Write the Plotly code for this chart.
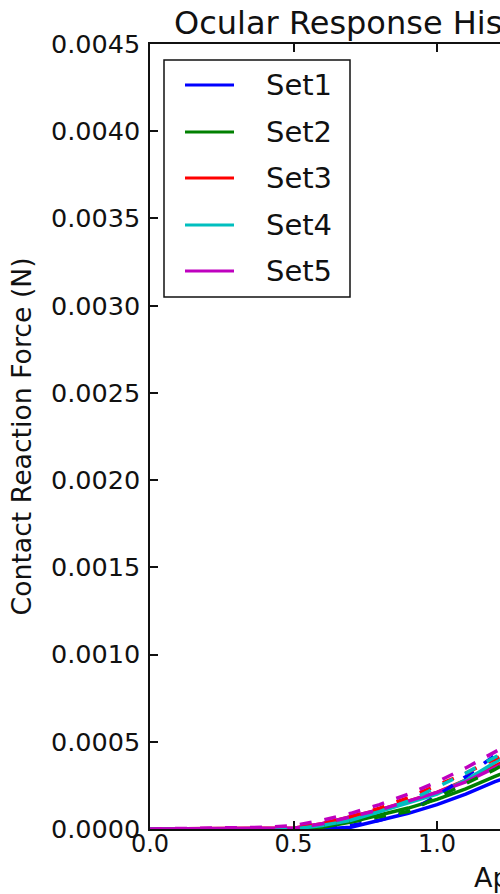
import plotly.graph_objects as go

# Applanation depth grid (mm)
depth = [0.0, 0.1, 0.2, 0.3, 0.4, 0.5, 0.6, 0.7, 0.8, 0.9, 1.0, 1.1, 1.2, 1.3]

set_names = ["Set1", "Set2", "Set3", "Set4", "Set5"]
set_colors = ["#0000ff", "#008000", "#ff0000", "#00bfbf", "#bf00bf"]

# Simulated contact reaction force (N), solid lines
sim_set1 = [0, 0, 0, 0, 0, 0, 0, 0.00001, 0.00005, 0.00009, 0.00014, 0.00020, 0.00027, 0.00033]
sim_set2 = [0, 0, 0, 0, 0, 0, 0.00001, 0.00004, 0.00008, 0.00012, 0.00017, 0.00023, 0.00030, 0.00037]
sim_set3 = [0, 0, 0, 0, 0, 0.000005, 0.00003, 0.00007, 0.00011, 0.00016, 0.00021, 0.00028, 0.00036, 0.00044]
sim_set4 = [0, 0, 0, 0, 0, 0, 0.00002, 0.00005, 0.00010, 0.00015, 0.00020, 0.00028, 0.00038, 0.00048]
sim_set5 = [0, 0, 0, 0, 0, 0.000005, 0.00003, 0.00007, 0.00011, 0.00016, 0.00021, 0.00027, 0.00035, 0.00043]

# Measured contact reaction force (N), dashed lines
meas_set1 = [0, 0, 0, 0, 0, 0, 0.000005, 0.00002, 0.00005, 0.00010, 0.00019, 0.00030, 0.00042, 0.00054]
meas_set2 = [0, 0, 0, 0, 0, 0, 0.00001, 0.00004, 0.00007, 0.00010, 0.00018, 0.00026, 0.00034, 0.00043]
meas_set3 = [0, 0, 0, 0, 0, 0.00001, 0.00003, 0.00007, 0.00012, 0.00018, 0.00025, 0.00032, 0.00040, 0.00049]
meas_set4 = [0, 0, 0, 0, 0, 0, 0.00002, 0.00005, 0.00010, 0.00016, 0.00024, 0.00032, 0.00041, 0.00050]
meas_set5 = [0, 0.000003, 0.000005, 0.000007, 0.00001, 0.00002, 0.00005, 0.00009, 0.00014, 0.00020, 0.00027, 0.00035, 0.00044, 0.00053]

sim_values = [sim_set1, sim_set2, sim_set3, sim_set4, sim_set5]
meas_values = [meas_set1, meas_set2, meas_set3, meas_set4, meas_set5]

x_ticks = [0.0, 0.5, 1.0]
y_ticks = [0.0000, 0.0005, 0.0010, 0.0015, 0.0020, 0.0025, 0.0030, 0.0035, 0.0040, 0.0045]

title_text = "Ocular Response History"
x_label = "Applanation Depth (mm)"
y_label = "Contact Reaction Force (N)"

FONT = "DejaVu Sans"
W, H = 500, 894
ML, MR, MT, MB = 150, 0, 44, 65
PW, PH = W - ML - MR, H - MT - MB
PX_PER_UNIT = 287.0

fig = go.Figure()

for name, color, ys in zip(set_names, set_colors, sim_values):
    fig.add_trace(go.Scatter(x=depth, y=ys, mode="lines", name=name,
                             line=dict(color=color, width=3.5), showlegend=False))
for name, color, ys in zip(set_names, set_colors, meas_values):
    fig.add_trace(go.Scatter(x=depth, y=ys, mode="lines", name=name + " measured",
                             line=dict(color=color, width=3.5, dash="12px,13px"),
                             showlegend=False))


def px_x(px):
    return (px - ML) / PW


def px_y(py):
    return (H - MB - py) / PH


shapes = []
annotations = []

# legend frame
shapes.append(dict(type="rect", xref="paper", yref="paper",
                   x0=px_x(164), x1=px_x(350), y0=px_y(297), y1=px_y(60),
                   line=dict(color="#111111", width=1.5), fillcolor="white", layer="above"))
entry_y = [85, 132, 178, 225, 271]
for name, color, ey in zip(set_names, set_colors, entry_y):
    shapes.append(dict(type="line", xref="paper", yref="paper",
                       x0=px_x(185), x1=px_x(234), y0=px_y(ey), y1=px_y(ey),
                       line=dict(color=color, width=3), layer="above"))
    annotations.append(dict(text=name, xref="paper", yref="paper",
                            x=px_x(264), y=px_y(ey), xanchor="left", yanchor="middle",
                            showarrow=False, font=dict(family=FONT, size=29, color="#111111")))

# title and x-axis label
annotations.append(dict(text=title_text, xref="paper", yref="paper",
                        x=px_x(172), y=px_y(23), xanchor="left", yanchor="middle",
                        showarrow=False, font=dict(family=FONT, size=32, color="#111111")))
annotations.append(dict(text=x_label, xref="paper", yref="paper",
                        x=px_x(472), y=px_y(877), xanchor="left", yanchor="middle",
                        showarrow=False, font=dict(family=FONT, size=27, color="#111111")))
annotations.append(dict(text=y_label, xref="paper", yref="paper",
                        x=px_x(21), y=px_y(436.5), xanchor="center", yanchor="middle", textangle=-90,
                        showarrow=False, font=dict(family=FONT, size=26.7, color="#111111")))

fig.update_layout(
    width=W, height=H,
    margin=dict(l=ML, r=MR, t=MT, b=MB, pad=0),
    paper_bgcolor="white", plot_bgcolor="white",
    font=dict(family=FONT, color="#111111"),
    showlegend=False,
    shapes=shapes,
    annotations=annotations,
)

fig.update_xaxes(
    range=[0, PW / PX_PER_UNIT],
    tickvals=x_ticks, ticktext=[f"{v:.1f}" for v in x_ticks],
    ticks="inside", ticklen=8, tickwidth=1.5, tickcolor="#111111",
    showline=True, linecolor="#111111", linewidth=1.5, mirror="ticks",
    showgrid=False, zeroline=False,
    tickfont=dict(family=FONT, size=24, color="#111111"),
    ticklabelstandoff=-8,
)
fig.update_yaxes(
    range=[0, 0.0045],
    tickvals=y_ticks, ticktext=[f"{v:.4f}" for v in y_ticks],
    ticks="inside", ticklen=8, tickwidth=1.5, tickcolor="#111111",
    showline=True, linecolor="#111111", linewidth=1.5, mirror=False,
    showgrid=False, zeroline=False,
    tickfont=dict(family=FONT, size=25.5, color="#111111"),
    ticklabelstandoff=3,
)

fig.write_html("out.html")
